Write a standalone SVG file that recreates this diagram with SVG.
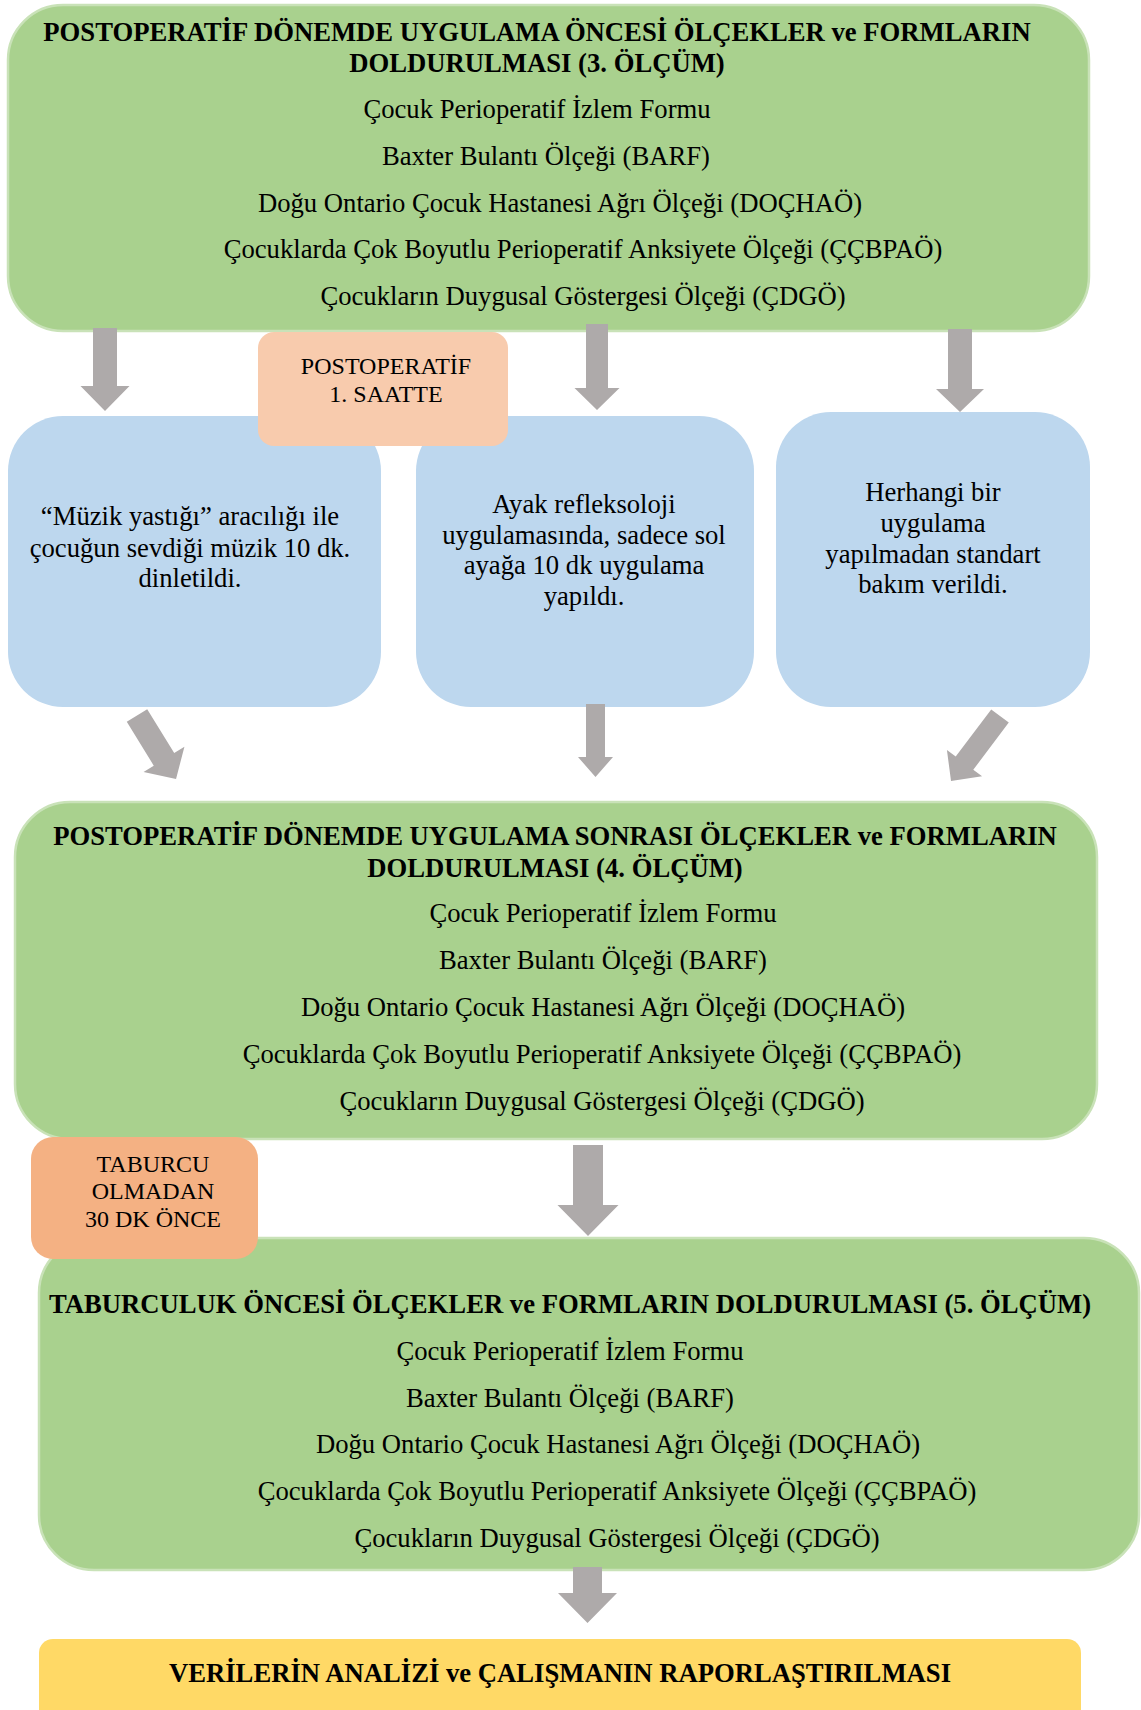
<svg xmlns="http://www.w3.org/2000/svg" width="1141" height="1710" viewBox="0 0 1141 1710">
<style>
.green{fill:#A9D18E;stroke:#C9E2B8;stroke-width:2.5}
.blue{fill:#BDD7EE}
.peach{fill:#F8CBAD}
.orange{fill:#F4B183}
.yellow{fill:#FFD966}
.arr{fill:#AEAAAA}
text{font-family:"Liberation Serif","Times New Roman",serif;fill:#000;text-anchor:middle}
.t{font-size:26.67px}
.b{font-size:26.67px;font-weight:bold}
.s{font-size:24px}
</style>
<rect width="1141" height="1710" fill="#FFFFFF"/>

<g id="node-measure3">
<rect class="green" x="8" y="5" width="1081" height="326" rx="55" ry="55"/>
<text class="b" x="537" y="41">POSTOPERATİF DÖNEMDE UYGULAMA ÖNCESİ ÖLÇEKLER ve FORMLARIN</text>
<text class="b" x="537" y="72">DOLDURULMASI (3. ÖLÇÜM)</text>
<text class="t" x="537" y="118">Çocuk Perioperatif İzlem Formu</text>
<text class="t" x="546" y="165">Baxter Bulantı Ölçeği (BARF)</text>
<text class="t" x="560" y="212">Doğu Ontario Çocuk Hastanesi Ağrı Ölçeği (DOÇHAÖ)</text>
<text class="t" x="583" y="258">Çocuklarda Çok Boyutlu Perioperatif Anksiyete Ölçeği (ÇÇBPAÖ)</text>
<text class="t" x="583" y="305">Çocukların Duygusal Göstergesi Ölçeği (ÇDGÖ)</text>
</g>

<g id="node-music">
<rect class="blue" x="8" y="416" width="373" height="291" rx="55" ry="55"/>
<text class="t" x="190" y="525">“Müzik yastığı” aracılığı ile</text>
<text class="t" x="190" y="557">çocuğun sevdiği müzik 10 dk.</text>
<text class="t" x="190" y="587">dinletildi.</text>
</g>

<g id="node-reflexology">
<rect class="blue" x="416" y="416" width="338" height="291" rx="55" ry="55"/>
<text class="t" x="584" y="513">Ayak refleksoloji</text>
<text class="t" x="584" y="544">uygulamasında, sadece sol</text>
<text class="t" x="584" y="574">ayağa 10 dk uygulama</text>
<text class="t" x="584" y="605">yapıldı.</text>
</g>

<g id="node-control">
<rect class="blue" x="776" y="412" width="314" height="295" rx="55" ry="55"/>
<text class="t" x="933" y="501">Herhangi bir</text>
<text class="t" x="933" y="532">uygulama</text>
<text class="t" x="933" y="563">yapılmadan standart</text>
<text class="t" x="933" y="593">bakım verildi.</text>
</g>

<g id="node-hour1">
<rect class="peach" x="258" y="332" width="250" height="114" rx="16" ry="16"/>
<text class="s" x="386" y="374">POSTOPERATİF</text>
<text class="s" x="386" y="402">1. SAATTE</text>
</g>

<g id="node-measure4">
<rect class="green" x="15" y="802" width="1082" height="337" rx="55" ry="55"/>
<text class="b" x="555" y="845">POSTOPERATİF DÖNEMDE UYGULAMA SONRASI ÖLÇEKLER ve FORMLARIN</text>
<text class="b" x="555" y="877">DOLDURULMASI (4. ÖLÇÜM)</text>
<text class="t" x="603" y="922">Çocuk Perioperatif İzlem Formu</text>
<text class="t" x="603" y="969">Baxter Bulantı Ölçeği (BARF)</text>
<text class="t" x="603" y="1016">Doğu Ontario Çocuk Hastanesi Ağrı Ölçeği (DOÇHAÖ)</text>
<text class="t" x="602" y="1063">Çocuklarda Çok Boyutlu Perioperatif Anksiyete Ölçeği (ÇÇBPAÖ)</text>
<text class="t" x="602" y="1110">Çocukların Duygusal Göstergesi Ölçeği (ÇDGÖ)</text>
</g>

<g id="node-measure5">
<rect class="green" x="39" y="1238" width="1100" height="332" rx="55" ry="55"/>
<text class="b" x="570" y="1313">TABURCULUK ÖNCESİ ÖLÇEKLER ve FORMLARIN DOLDURULMASI (5. ÖLÇÜM)</text>
<text class="t" x="570" y="1360">Çocuk Perioperatif İzlem Formu</text>
<text class="t" x="570" y="1407">Baxter Bulantı Ölçeği (BARF)</text>
<text class="t" x="618" y="1453">Doğu Ontario Çocuk Hastanesi Ağrı Ölçeği (DOÇHAÖ)</text>
<text class="t" x="617" y="1500">Çocuklarda Çok Boyutlu Perioperatif Anksiyete Ölçeği (ÇÇBPAÖ)</text>
<text class="t" x="617" y="1547">Çocukların Duygusal Göstergesi Ölçeği (ÇDGÖ)</text>
</g>

<g id="node-discharge">
<rect class="orange" x="31" y="1137" width="227" height="122" rx="22" ry="22"/>
<text class="s" x="153" y="1172">TABURCU</text>
<text class="s" x="153" y="1199">OLMADAN</text>
<text class="s" x="153" y="1227">30 DK ÖNCE</text>
</g>

<g id="node-analysis">
<rect class="yellow" x="39" y="1639" width="1042" height="90" rx="14" ry="14"/>
<text class="b" x="560" y="1682">VERİLERİN ANALİZİ ve ÇALIŞMANIN RAPORLAŞTIRILMASI</text>
</g>

<g id="connectors">
<polygon class="arr" points="93,328 117,328 117,386 129.5,386 105,411 80.5,386 93,386"/>
<polygon class="arr" points="586,324 608,324 608,388 619.5,388 597,410 574.5,388 586,388"/>
<polygon class="arr" points="948,329 972,329 972,389 984,389 960,412 936,389 948,389"/>
<polygon class="arr" transform="translate(137,715.5) rotate(-31.6)" points="-12,0 12,0 12,51.5 24,51.5 0,74.5 -24,51.5 -12,51.5"/>
<polygon class="arr" points="586,704 605,704 605,757 613,757 595.5,777 578,757 586,757"/>
<polygon class="arr" transform="translate(1000,716) rotate(37)" points="-11,0 11,0 11,59 22,59 0,81.4 -22,59 -11,59"/>
<polygon class="arr" points="573,1145 603,1145 603,1205 618.5,1205 588,1236 557.5,1205 573,1205"/>
<polygon class="arr" points="573,1567 602,1567 602,1593 617,1593 587.5,1623 558,1593 573,1593"/>
</g>
</svg>
